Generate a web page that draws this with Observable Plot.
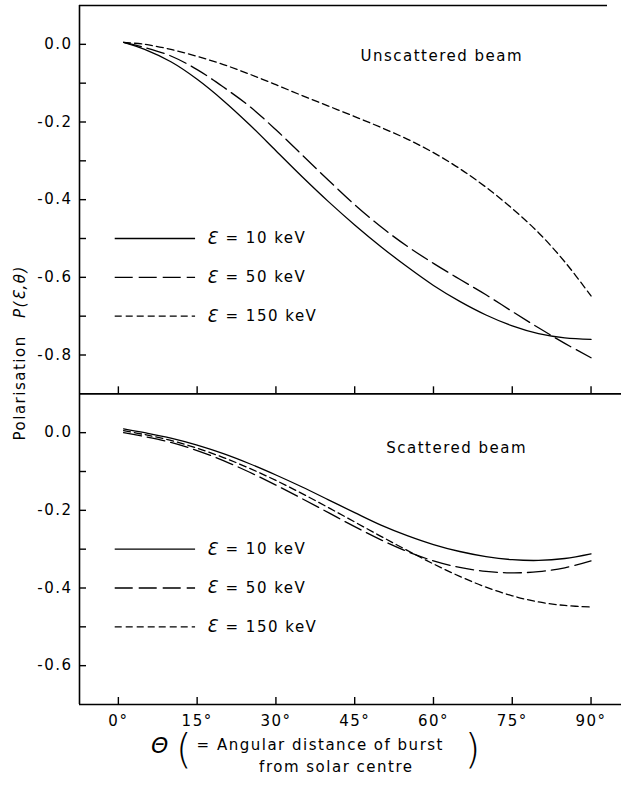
<!DOCTYPE html>
<html>
<head>
<meta charset="utf-8">
<script src="https://cdn.jsdelivr.net/npm/d3@7"></script>
<script src="https://cdn.jsdelivr.net/npm/@observablehq/plot@0.6"></script>
<style>
  html, body { margin: 0; padding: 0; background: #fff; }
</style>
</head>
<body>
<div id="chart"></div>
<script>
// ---- Data ----
const theta = [1, 5, 10, 15, 20, 25, 30, 35, 40, 45, 50, 55, 60, 65, 70, 75, 80, 85, 90];

// Unscattered beam  P(E, theta)
const unscat10  = [0.005, -0.013, -0.045, -0.09, -0.145, -0.207, -0.274, -0.341, -0.405, -0.465, -0.521, -0.573, -0.621, -0.662, -0.697, -0.725, -0.745, -0.756, -0.76];
const unscat50  = [0.005, -0.008, -0.03, -0.065, -0.11, -0.16, -0.22, -0.285, -0.35, -0.413, -0.47, -0.52, -0.564, -0.605, -0.645, -0.688, -0.73, -0.77, -0.807];
const unscat150 = [0.005, 0.0, -0.013, -0.031, -0.052, -0.077, -0.104, -0.132, -0.159, -0.186, -0.214, -0.244, -0.279, -0.32, -0.368, -0.423, -0.485, -0.56, -0.648];

// Scattered beam  P(E, theta)
const scat10  = [0.01, 0.0, -0.014, -0.032, -0.054, -0.08, -0.109, -0.14, -0.173, -0.206, -0.238, -0.265, -0.288, -0.306, -0.319, -0.327, -0.329, -0.324, -0.312];
const scat50  = [0.0, -0.01, -0.025, -0.046, -0.072, -0.102, -0.135, -0.17, -0.206, -0.242, -0.276, -0.306, -0.33, -0.347, -0.357, -0.361, -0.358, -0.348, -0.33];
const scat150 = [0.005, -0.005, -0.02, -0.04, -0.064, -0.092, -0.123, -0.157, -0.193, -0.23, -0.267, -0.303, -0.338, -0.37, -0.398, -0.42, -0.436, -0.445, -0.449];

const energies = ["10", "50", "150"];
const topTicks = [0, -0.2, -0.4, -0.6, -0.8];
const topMinorTicks = [-0.1, -0.3, -0.5, -0.7];
const bottomTicks = [0, -0.2, -0.4, -0.6];
const bottomMinorTicks = [-0.1, -0.3, -0.5];
const xTicks = [0, 15, 30, 45, 60, 75, 90];
const panelTitles = ["Unscattered beam", "Scattered beam"];

// ---- Layout ----
const W = 621, H = 785;
const mL = 79, mR = 0, mT = 5, mB = 81;
const bottomOffset = -1.0;     // bottom panel drawn 1.0 unit below the top one
const yTop = 0.1, yBot = -1.7, ySep = -0.9;
const xMin = -7.4, xMax = 95.8;
const plotH = H - mT - mB;
const yPx = v => mT + (yTop - v) / (yTop - yBot) * plotH;
const sepPx = yPx(ySep);

const dashes = {"10": null, "50": "18,6", "150": "7,4"};
const sw = 1.3;

const topSeries = [unscat10, unscat50, unscat150];
const botSeries = [scat10, scat50, scat150];

const fmt = v => {
  const r = Math.abs(v) < 1e-9 ? 0 : v;
  return r.toFixed(1);
};
const labelMap = new Map();
topTicks.forEach(v => labelMap.set(+(v).toFixed(3), fmt(v)));
bottomTicks.forEach(v => labelMap.set(+(v + bottomOffset).toFixed(3), fmt(v)));
const allLabeled = [...topTicks, ...bottomTicks.map(v => v + bottomOffset)];
const allTickY = [...allLabeled, ...topMinorTicks, ...bottomMinorTicks.map(v => v + bottomOffset)];

const marks = [];

// frame lines
marks.push(Plot.ruleX([xMin], {y1: yBot, y2: yTop, strokeWidth: 1.6}));
marks.push(Plot.ruleY([yTop], {insetRight: 14, strokeWidth: 1.4}));
marks.push(Plot.ruleY([ySep], {strokeWidth: 1.6}));
marks.push(Plot.ruleY([yBot], {strokeWidth: 1.6}));

// inward ticks
marks.push(Plot.tickY(allTickY, {y: d => d, insetRight: (W - mL - mR) - 7, strokeWidth: 1.4}));
marks.push(Plot.tickX(xTicks, {x: d => d, insetTop: plotH - 7, strokeWidth: 1.4}));
marks.push(Plot.tickX(xTicks, {x: d => d, insetTop: (sepPx - mT) - 7, insetBottom: (H - mB) - sepPx, strokeWidth: 1.4}));

// axes labels
marks.push(Plot.axisY(allLabeled, {tickSize: 0, tickPadding: 7, tickFormat: d => labelMap.get(+d.toFixed(3)), label: null, fontSize: 15}));
marks.push(Plot.axisX(xTicks, {tickSize: 0, tickPadding: 11, tickFormat: d => d + "°", label: null, fontSize: 15}));

// curves
energies.forEach((e, i) => {
  marks.push(Plot.line(theta, {x: theta, y: topSeries[i], curve: "catmull-rom", stroke: "black", strokeWidth: sw, strokeDasharray: dashes[e]}));
  marks.push(Plot.line(theta, {x: theta, y: botSeries[i].map(v => v + bottomOffset), curve: "catmull-rom", stroke: "black", strokeWidth: sw, strokeDasharray: dashes[e]}));
});

// legends (top rows at -0.5, -0.6, -0.7 ; bottom rows at -0.3, -0.4, -0.5)
const legTop = [-0.5, -0.6, -0.7];
const legBot = [-0.3, -0.4, -0.5].map(v => v + bottomOffset);
const legX1 = -0.6, legX2 = 14.7, legSym = 16.8, legTxt = 20.4;
[legTop, legBot].forEach(rows => {
  energies.forEach((e, i) => {
    marks.push(Plot.ruleY([rows[i]], {x1: legX1, x2: legX2, stroke: "black", strokeWidth: sw, strokeDasharray: dashes[e]}));
    marks.push(Plot.text(["Ɛ"], {x: legSym, y: rows[i], text: d => d, textAnchor: "start", fontSize: 17, fontStyle: "italic"}));
    marks.push(Plot.text([`= ${e} keV`], {x: legTxt, y: rows[i], text: d => d, textAnchor: "start", fontSize: 15}));
  });
});

// panel titles
marks.push(Plot.text([panelTitles[0]], {x: 46.1, y: -0.03, text: d => d, textAnchor: "start", fontSize: 15}));
marks.push(Plot.text([panelTitles[1]], {x: 51.0, y: -0.04 + bottomOffset, text: d => d, textAnchor: "start", fontSize: 15}));

// y-axis title (rotated)
marks.push(Plot.text(["Polarisation"], {frameAnchor: "left", y: -1.02, dx: -(mL - 20), rotate: -90, text: d => d, fontSize: 15}));
marks.push(Plot.text(["P(Ɛ,θ)"], {frameAnchor: "left", y: -0.705, dx: -(mL - 20), rotate: -90, text: d => d, fontSize: 15, fontStyle: "italic"}));

// x-axis title
marks.push(Plot.text(["Θ"], {x: 8.0, frameAnchor: "bottom", dy: 48, text: d => d, fontSize: 22, fontStyle: "italic"}));
marks.push(Plot.text(["("], {x: 12.6, frameAnchor: "bottom", dy: 58, text: d => d, fontSize: 40, fontWeight: 300}));
marks.push(Plot.text(["= Angular distance of burst"], {x: 14.9, frameAnchor: "bottom", dy: 45, text: d => d, textAnchor: "start", fontSize: 15}));
marks.push(Plot.text(["from solar centre"], {x: 41.5, frameAnchor: "bottom", dy: 67, text: d => d, fontSize: 15}));
marks.push(Plot.text([")"], {x: 67.6, frameAnchor: "bottom", dy: 58, text: d => d, fontSize: 40, fontWeight: 300}));

const chart = Plot.plot({
  width: W,
  height: H,
  marginLeft: mL,
  marginRight: mR,
  marginTop: mT,
  marginBottom: mB,
  x: {domain: [xMin, xMax]},
  y: {domain: [yBot, yTop]},
  style: {fontFamily: "DejaVu Sans, sans-serif", fontSize: "15px", letterSpacing: "1.5px", color: "black", background: "white"},
  marks
});
document.getElementById("chart").appendChild(chart);
</script>
</body>
</html>
